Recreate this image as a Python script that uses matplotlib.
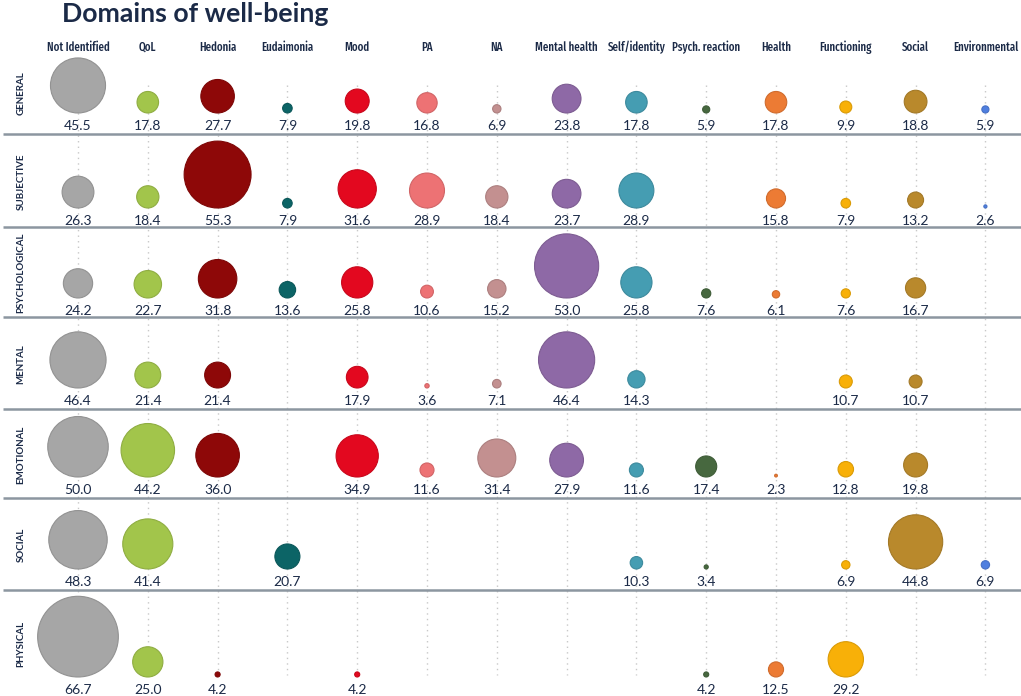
import numpy as np
import matplotlib.pyplot as plt
from matplotlib import colors as mcolors
from matplotlib import font_manager

# ####################################################################
# data

domains = ["Not Identified", "QoL", "Hedonia", "Eudaimonia", "Mood", "PA", "NA",
           "Mental health", "Self/identity", "Psych. reaction", "Health",
           "Functioning", "Social", "Environmental"]

domain_colors = ["#a6a6a6", "#a2c54b", "#8e0808", "#0c6466", "#e3081f", "#ed7274",
                 "#c39090", "#8e69a6", "#459db2", "#47683f", "#ec7b34",
                 "#f8b008", "#b9892c", "#4f7fe0"]

row_names = ["GENERAL", "SUBJECTIVE", "PSYCHOLOGICAL", "MENTAL", "EMOTIONAL",
             "SOCIAL", "PHYSICAL"]

nan = np.nan
general = [45.5, 17.8, 27.7, 7.9, 19.8, 16.8, 6.9, 23.8, 17.8, 5.9, 17.8, 9.9, 18.8, 5.9]
subjective = [26.3, 18.4, 55.3, 7.9, 31.6, 28.9, 18.4, 23.7, 28.9, nan, 15.8, 7.9, 13.2, 2.6]
psychological = [24.2, 22.7, 31.8, 13.6, 25.8, 10.6, 15.2, 53.0, 25.8, 7.6, 6.1, 7.6, 16.7, nan]
mental = [46.4, 21.4, 21.4, nan, 17.9, 3.6, 7.1, 46.4, 14.3, nan, nan, 10.7, 10.7, nan]
emotional = [50.0, 44.2, 36.0, nan, 34.9, 11.6, 31.4, 27.9, 11.6, 17.4, 2.3, 12.8, 19.8, nan]
social = [48.3, 41.4, nan, 20.7, nan, nan, nan, nan, 10.3, 3.4, nan, 6.9, 44.8, 6.9]
physical = [66.7, 25.0, 4.2, nan, 4.2, nan, nan, nan, nan, 4.2, 12.5, 29.2, nan, nan]

rows = [general, subjective, psychological, mental, emotional, social, physical]

# ####################################################################
# layout (pixels, figure is 1021 x 696)

W, H = 1021, 696
x0, step = 78, 69.8                       # first column centre, column spacing
bottoms = [113, 208, 298, 388, 477, 569, 677]   # bubble bottom of each row
seps = [134, 227, 317, 409, 498, 590]           # row separator lines
row_tops = [50] + seps
row_ends = seps + [H]
px_per_unit = 1.21                         # bubble diameter per value unit
navy = "#1b2a47"

# condensed font for the column headers
names = {f.name for f in font_manager.fontManager.ttflist}
head_font = next((n for n in ["Fira Sans Extra Condensed", "Roboto Condensed",
                              "Barlow Semi Condensed", "Asap Condensed"] if n in names),
                 "Roboto")

fig = plt.figure(figsize=(W / 100, H / 100), dpi=100)
ax = fig.add_axes([0, 0, 1, 1])
ax.set_xlim(-x0 / step, (W - x0) / step)
ax.set_ylim(H, 0)
ax.axis("off")

ncol = len(domains)
cols = np.arange(ncol)

# dotted guides
ax.vlines(cols, 85, 675, colors="#c8c8c8", linestyles=(0, (1, 3)), lw=1, zorder=0)

# separators
for y in seps:
    ax.plot([3 / step - x0 / step, (W - x0) / step], [y, y], color="#8c96a0", lw=1.8,
            zorder=1, solid_capstyle="butt")

# column headers
for i, name in enumerate(domains):
    ax.text(i, 47, name, ha="center", va="center", fontsize=8.5, color=navy,
            family=head_font, fontweight=500)

# bubbles + values
for r, vals in enumerate(rows):
    v = np.array(vals, dtype=float)
    ok = ~np.isnan(v)
    d = v[ok] * px_per_unit
    fc = [domain_colors[i] for i in cols[ok]]
    ec = [tuple(c * 0.88 for c in mcolors.to_rgb(f)) for f in fc]
    ax.scatter(cols[ok], bottoms[r] - d / 2, s=(d * 0.72) ** 2, c=fc, edgecolors=ec,
               linewidths=0.8, zorder=3)
    for i, val in zip(cols[ok], v[ok]):
        ax.text(i, bottoms[r] + 13, f"{val:.1f}", ha="center", va="center",
                fontsize=10, color=navy, family="Lato", zorder=4)
    # row label
    ax.text(-57 / step, (row_tops[r] + row_ends[r]) / 2 + 1, row_names[r],
            rotation=90, ha="center", va="center", fontsize=7, color=navy,
            family="Lato", fontweight="bold")

ax.text(-16 / step, 14, "Domains of well-being", ha="left", va="center",
        fontsize=19.2, color=navy, family="Lato", fontweight="bold")

fig.savefig("out.png", dpi=100)
